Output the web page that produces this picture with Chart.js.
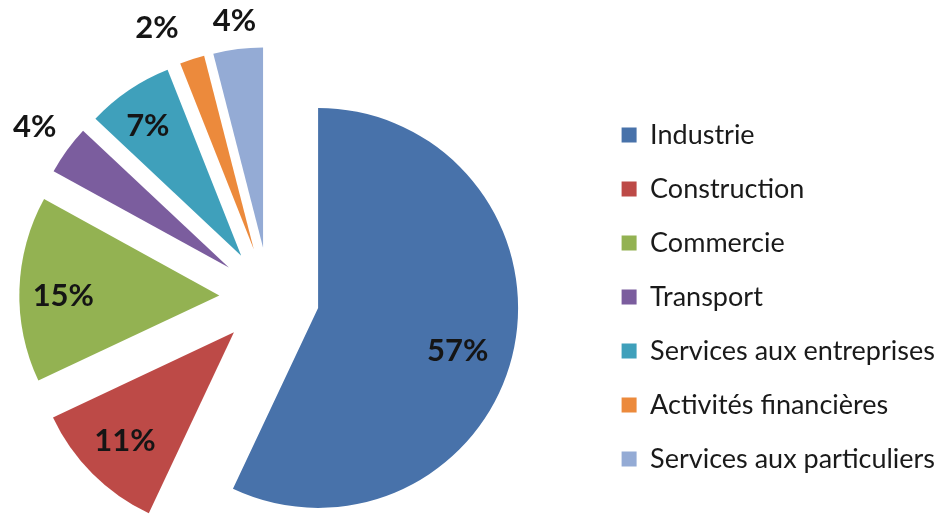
<!DOCTYPE html>
<html>
<head>
<meta charset="utf-8">
<script src="https://cdn.jsdelivr.net/npm/chart.js@4/dist/chart.umd.min.js"></script>
<style>
  html, body { margin: 0; padding: 0; background: #fff; overflow: hidden; }
  /* canvas is wider than the window so the pie sits left of the legend */
  #wrap { position: absolute; left: -56px; top: 0; width: 1001px; height: 516px; }
</style>
</head>
<body>
<div id="wrap"><canvas id="sectors"></canvas></div>
<script>
const sectors = [
  'Industrie',
  'Construction',
  'Commercie',
  'Transport',
  'Services aux entreprises',
  'Activités financières',
  'Services aux particuliers'
];
const shares = [57, 11, 15, 4, 7, 2, 4];

const sliceColors = ['#4872aa', '#bd4a47', '#93b252', '#7b5d9e', '#3fa0bb', '#ec8a3c', '#94abd5'];

// where each percentage sits: share of the radius out from the slice tip, and a small turn in degrees
const labelReach = [0.73, 0.77, 0.78, 1.2, 0.8, 1.21, 1.14];
const labelTurn = [4.5, 0, -2, 0, -1.5, -5.6, 0];

// pie slice pushed out along its bisector, keeping the same radius
class ExplodedArc extends Chart.ArcElement {
  static id = 'explodedArc';
  draw(ctx) {
    const { x, y, startAngle, endAngle, outerRadius, options } = this;
    const mid = (startAngle + endAngle) / 2;
    const push = options.offset || 0;
    ctx.save();
    ctx.translate(Math.cos(mid) * push, Math.sin(mid) * push);
    ctx.beginPath();
    ctx.moveTo(x, y);
    ctx.arc(x, y, outerRadius, startAngle, endAngle);
    ctx.closePath();
    ctx.fillStyle = options.backgroundColor;
    ctx.fill();
    ctx.restore();
  }
}
Chart.register(ExplodedArc);
Chart.defaults.datasets.pie.dataElementType = 'explodedArc';

const sliceLabels = {
  id: 'sliceLabels',
  afterDatasetsDraw(chart) {
    const ctx = chart.ctx;
    const arcs = chart.getDatasetMeta(0).data;
    ctx.save();
    ctx.font = 'bold 31px Lato';
    ctx.fillStyle = '#151515';
    ctx.textAlign = 'center';
    ctx.textBaseline = 'middle';
    arcs.forEach(function (arc, i) {
      const mid = (arc.startAngle + arc.endAngle) / 2;
      const push = arc.options.offset || 0;
      const tipX = arc.x + Math.cos(mid) * push;
      const tipY = arc.y + Math.sin(mid) * push;
      const a = mid + labelTurn[i] * Math.PI / 180;
      const r = arc.outerRadius * labelReach[i];
      ctx.fillText(shares[i] + '%', tipX + Math.cos(a) * r, tipY + Math.sin(a) * r);
    });
    ctx.restore();
  }
};

new Chart(document.getElementById('sectors'), {
  type: 'pie',
  data: {
    labels: sectors,
    datasets: [{
      data: shares,
      backgroundColor: sliceColors,
      borderWidth: 0,
      offset: 50,
      hoverOffset: 0
    }]
  },
  options: {
    responsive: true,
    maintainAspectRatio: false,
    animation: false,
    radius: 200,
    layout: { padding: { top: 78, bottom: 0, left: 0, right: 0 } },
    plugins: {
      tooltip: { enabled: false },
      legend: {
        position: 'right',
        labels: {
          color: '#1a1a1a',
          font: { family: 'Lato', size: 27 },
          boxWidth: 15,
          boxHeight: 15,
          padding: 27
        }
      }
    }
  },
  plugins: [sliceLabels]
});
</script>
</body>
</html>
